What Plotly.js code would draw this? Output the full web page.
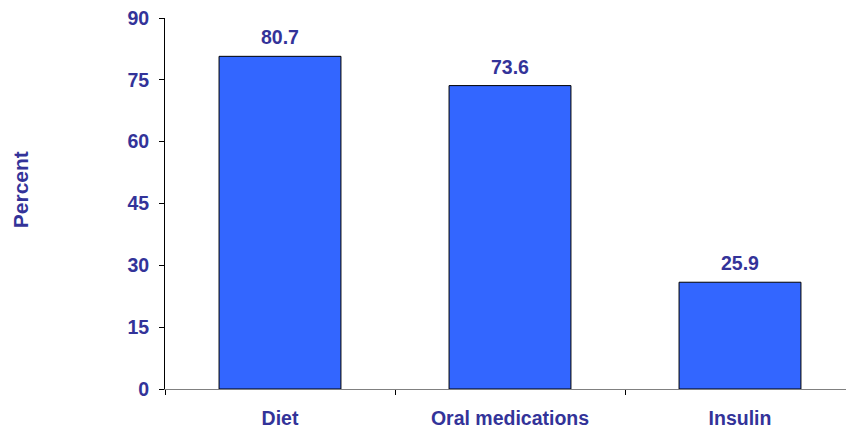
<!DOCTYPE html>
<html>
<head>
<meta charset="utf-8">
<script src="https://cdn.plot.ly/plotly-3.0.1.min.js"></script>
<style>html,body{margin:0;padding:0;overflow:hidden;background:#fff;}</style>
</head>
<body>
<div id="chart"></div>
<script>
const categories = ["Diet", "Oral medications", "Insulin"];
const percentValues = [80.7, 73.6, 25.9];
const yTickValues = [0, 15, 30, 45, 60, 75, 90];

const navy = "#333399";
const fontFam = "Liberation Sans, Arial, sans-serif";

const trace = {
  type: "bar",
  x: categories,
  y: percentValues,
  width: 0.53,
  marker: { color: "#3366FF", line: { color: "#000000", width: 1 } },
  hoverinfo: "none"
};

const annotations = categories.map((c, i) => ({
  x: c, y: percentValues[i], xref: "x", yref: "y",
  text: percentValues[i].toFixed(1),
  showarrow: false, yanchor: "middle", yshift: 19,
  font: { family: fontFam, size: 19.5, color: navy, weight: "bold" }
}));
annotations.push({
  xref: "paper", yref: "paper", x: -0.2101, y: 0.536,
  text: "Percent", textangle: -90, showarrow: false,
  xanchor: "center", yanchor: "middle",
  font: { family: fontFam, size: 21, color: navy, weight: "bold" }
});

const layout = {
  width: 860, height: 431,
  margin: { l: 165, r: 5, t: 18, b: 42 },
  paper_bgcolor: "#ffffff", plot_bgcolor: "#ffffff",
  showlegend: false,
  bargap: 0.47,
  xaxis: {
    type: "category",
    showline: true, linecolor: "#808080", linewidth: 1,
    ticks: "outside", tickson: "boundaries", ticklen: 5, tickcolor: "#000000",
    showgrid: false, zeroline: false,
    ticklabelstandoff: 12,
    tickfont: { family: fontFam, size: 19.5, color: navy, weight: "bold" }
  },
  yaxis: {
    range: [0, 90], tickvals: yTickValues,
    showline: true, linecolor: "#000000", linewidth: 1,
    ticks: "outside", ticklen: 5, tickcolor: "#000000",
    showgrid: false, zeroline: false,
    ticklabelstandoff: 6,
    tickfont: { family: fontFam, size: 19.5, color: navy, weight: "bold" }
  },
  annotations: annotations
};

Plotly.newPlot("chart", [trace], layout, { displayModeBar: false, staticPlot: true });
</script>
</body>
</html>
